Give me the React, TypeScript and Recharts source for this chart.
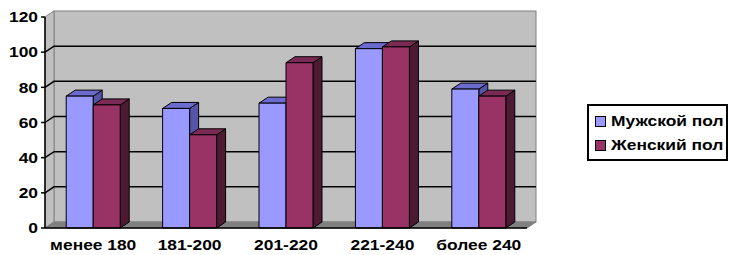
import { BarChart, Bar, XAxis, YAxis, CartesianGrid, ReferenceArea } from 'recharts'

const categories = ['менее 180', '181-200', '201-220', '221-240', 'более 240']
const maleValues = [75, 68, 71, 102, 79]
const femaleValues = [70, 53, 94, 103, 75]
const yTicks = [0, 20, 40, 60, 80, 100, 120]
const gridValues = [20, 40, 60, 80, 100]
const edgeTicks = [0, 1, 2, 3, 4, 5]

const data = categories.map((cat, i) => ({ cat, male: maleValues[i], female: femaleValues[i] }))

const FONT = '"Liberation Sans", Arial, sans-serif'
const FONT_SIZE = 14.5
const STRETCH = 1.2 // the source text is drawn a bit wide
const DX = 9
const DY = -6

const SERIES = [
    { key: 'male', name: 'Мужской пол', face: '#9999ff', top: '#6b6bd0', side: '#5555a8' },
    { key: 'female', name: 'Женский пол', face: '#993366', top: '#7a2a55', side: '#4d1a33' },
]

function Box3D(props: any) {
    const { x, y, width, height, face, top, side } = props
    if (height == null || width == null) return null
    const r = x + width
    const b = y + height
    return (
        <g stroke='#000' strokeWidth={1} strokeLinejoin='round'>
            <polygon fill={side} points={`${r},${y} ${r + DX},${y + DY} ${r + DX},${b + DY} ${r},${b}`} />
            <polygon fill={top} points={`${x},${y} ${x + DX},${y + DY} ${r + DX},${y + DY} ${r},${y}`} />
            <rect x={x} y={y} width={width} height={height} fill={face} />
        </g>
    )
}

function Walls(props: any) {
    const { x, y, width, height } = props
    const b = y + height
    return (
        <g>
            <rect x={x + DX} y={y + DY} width={width} height={height} fill='#c0c0c0' stroke='#808080' />
            <polygon fill='#c0c0c0' stroke='#808080'
                points={`${x},${y} ${x + DX},${y + DY} ${x + DX},${b + DY} ${x},${b}`} />
            <polygon fill='#808080' stroke='#808080'
                points={`${x},${b} ${x + DX},${b + DY} ${x + width + DX},${b + DY} ${x + width},${b}`} />
        </g>
    )
}

function GridLine(p: any) {
    const { x1, y1, x2 } = p
    return (
        <polyline
            key={`g-${y1}`}
            points={`${x1},${y1} ${x1 + DX},${y1 + DY} ${x2 + DX},${y1 + DY}`}
            fill='none'
            stroke='#000'
            strokeWidth={1.5}
        />
    )
}

function WideTick(props: any) {
    const { x, y, payload, textAnchor, shift } = props
    return (
        <g transform={`translate(${x},${y}) scale(${STRETCH},1)`}>
            <text
                x={0}
                y={0}
                dy={shift}
                textAnchor={textAnchor}
                fill='#000'
                fontFamily={FONT}
                fontWeight='bold'
                fontSize={FONT_SIZE}
            >
                {payload.value}
            </text>
        </g>
    )
}

function LegendBox() {
    return (
        <div style={{
            position: 'absolute', left: 587, top: 104,
            border: '2px solid #000', width: 137, height: 53, boxSizing: 'content-box',
            fontFamily: FONT, fontWeight: 'bold', fontSize: FONT_SIZE, color: '#000',
            background: '#fff',
        }}>
            {SERIES.map((s, i) => (
                <div key={s.key} style={{ display: 'flex', alignItems: 'center', height: 24, marginTop: i === 0 ? 3 : 0, paddingLeft: 6 }}>
                    <span style={{ width: 9, height: 9, flex: 'none', background: s.face, border: '1px solid #000', marginRight: 5 }} />
                    <span style={{ whiteSpace: 'nowrap', display: 'inline-block', transform: `scaleX(${STRETCH})`, transformOrigin: 'left center' }}>{s.name}</span>
                </div>
            ))}
        </div>
    )
}

export default function App() {
    return (
        <div style={{ position: 'fixed', left: 0, top: 0, width: 729, height: 255, background: '#fff', overflow: 'hidden' }}>
            <BarChart
                width={729}
                height={255}
                data={data}
                margin={{ top: 17, right: 202, left: 0, bottom: 0 }}
                barCategoryGap='22%'
                barGap={0}
            >
                <ReferenceArea y1={0} y2={120} shape={(p: any) => <Walls {...p} />} zIndex={-200} />
                <CartesianGrid vertical={false} horizontalValues={gridValues} horizontal={(p: any) => <GridLine {...p} />} />
                <XAxis
                    xAxisId='edges'
                    type='number'
                    domain={[0, 5]}
                    ticks={edgeTicks}
                    tick={() => <g />}
                    axisLine={false}
                    tickLine={{ stroke: '#000', strokeWidth: 1.5 }}
                    tickSize={5}
                    height={0}
                />
                <XAxis
                    dataKey='cat'
                    tickLine={false}
                    axisLine={{ stroke: '#000', strokeWidth: 1.5 }}
                    tick={<WideTick shift='0.71em' />}
                    tickMargin={6}
                    height={27}
                    interval={0}
                />
                <YAxis
                    domain={[0, 120]}
                    ticks={yTicks}
                    width={45}
                    axisLine={{ stroke: '#000', strokeWidth: 1.5 }}
                    tickLine={{ stroke: '#000', strokeWidth: 1.5 }}
                    tickSize={4}
                    tickMargin={3}
                    tick={<WideTick shift='0.36em' />}
                />
                {SERIES.map(s => (
                    <Bar
                        key={s.key}
                        dataKey={s.key}
                        name={s.name}
                        fill={s.face}
                        isAnimationActive={false}
                        shape={(p: any) => <Box3D {...p} face={s.face} top={s.top} side={s.side} />}
                    />
                ))}
            </BarChart>
            <LegendBox />
        </div>
    )
}
